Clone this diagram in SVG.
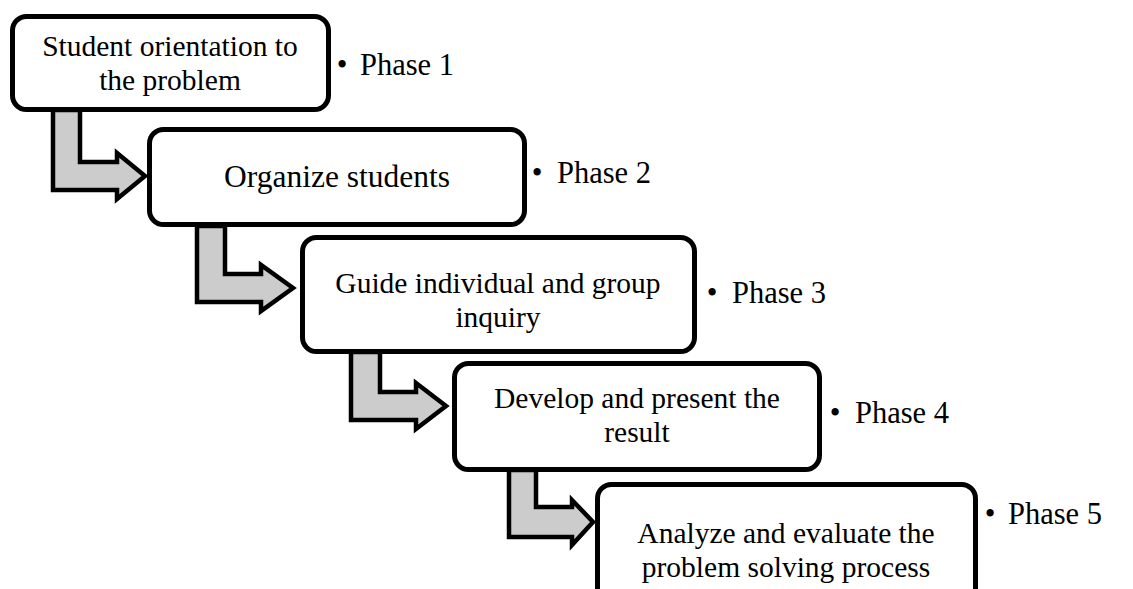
<svg xmlns="http://www.w3.org/2000/svg" width="1133" height="589" viewBox="0 0 1133 589">
<style>
.box{fill:#fff;stroke:#000;stroke-width:5}
.arr{fill:#cccccc;stroke:#000;stroke-width:4.5;stroke-linejoin:miter}
text{font-family:'Liberation Serif','Times New Roman','DejaVu Serif',serif;fill:#000}
.t{font-size:29.5px;text-anchor:middle}
.s{font-size:31.5px;text-anchor:middle}
.p{font-size:30.5px}
.b{font-size:30.5px;text-anchor:middle}
</style>
<rect width="1133" height="589" fill="#fff"/>
<g id="connectors">
<path class="arr" d="M53,110 L80,110 L80,162 L117,162 L117,153 L145,176 L117,199 L117,190 L53,190 Z"/>
<path class="arr" d="M197,226 L225,226 L225,274 L261,274 L261,265 L293,288 L261,311 L261,302 L197,302 Z"/>
<path class="arr" d="M351,352 L380,352 L380,392 L416,392 L416,383 L446,406 L416,429 L416,420 L351,420 Z"/>
<path class="arr" d="M509,470 L536,470 L536,507 L572,507 L572,500 L593,522 L572,545 L572,537 L509,537 Z"/>
</g>
<g id="node1">
<rect class="box" x="12.5" y="16.5" width="316" height="93" rx="14"/>
<text class="t"><tspan x="170" y="55.5">Student orientation to</tspan><tspan x="170" y="89.5">the problem</tspan></text>
<text class="b" x="342" y="75">•</text>
<text class="p" x="360" y="75">Phase 1</text>
</g>
<g id="node2">
<rect class="box" x="149.5" y="129.5" width="375" height="95" rx="14"/>
<text class="s" x="337" y="187">Organize students</text>
<text class="b" x="537" y="183">•</text>
<text class="p" x="557" y="183">Phase 2</text>
</g>
<g id="node3">
<rect class="box" x="302.5" y="237.5" width="392" height="114" rx="14"/>
<text class="t"><tspan x="498" y="292.5">Guide individual and group</tspan><tspan x="498" y="326.5">inquiry</tspan></text>
<text class="b" x="712" y="303">•</text>
<text class="p" x="732" y="303">Phase 3</text>
</g>
<g id="node4">
<rect class="box" x="454.5" y="363.5" width="365" height="106" rx="14"/>
<text class="t"><tspan x="637" y="408">Develop and present the</tspan><tspan x="637" y="442">result</tspan></text>
<text class="b" x="835" y="423">•</text>
<text class="p" x="855" y="423">Phase 4</text>
</g>
<g id="node5">
<rect class="box" x="597.5" y="484.5" width="378" height="120" rx="14"/>
<text class="t"><tspan x="786" y="542.5">Analyze and evaluate the</tspan><tspan x="786" y="576.5">problem solving process</tspan></text>
<text class="b" x="990" y="524">•</text>
<text class="p" x="1008" y="524">Phase 5</text>
</g>
</svg>
